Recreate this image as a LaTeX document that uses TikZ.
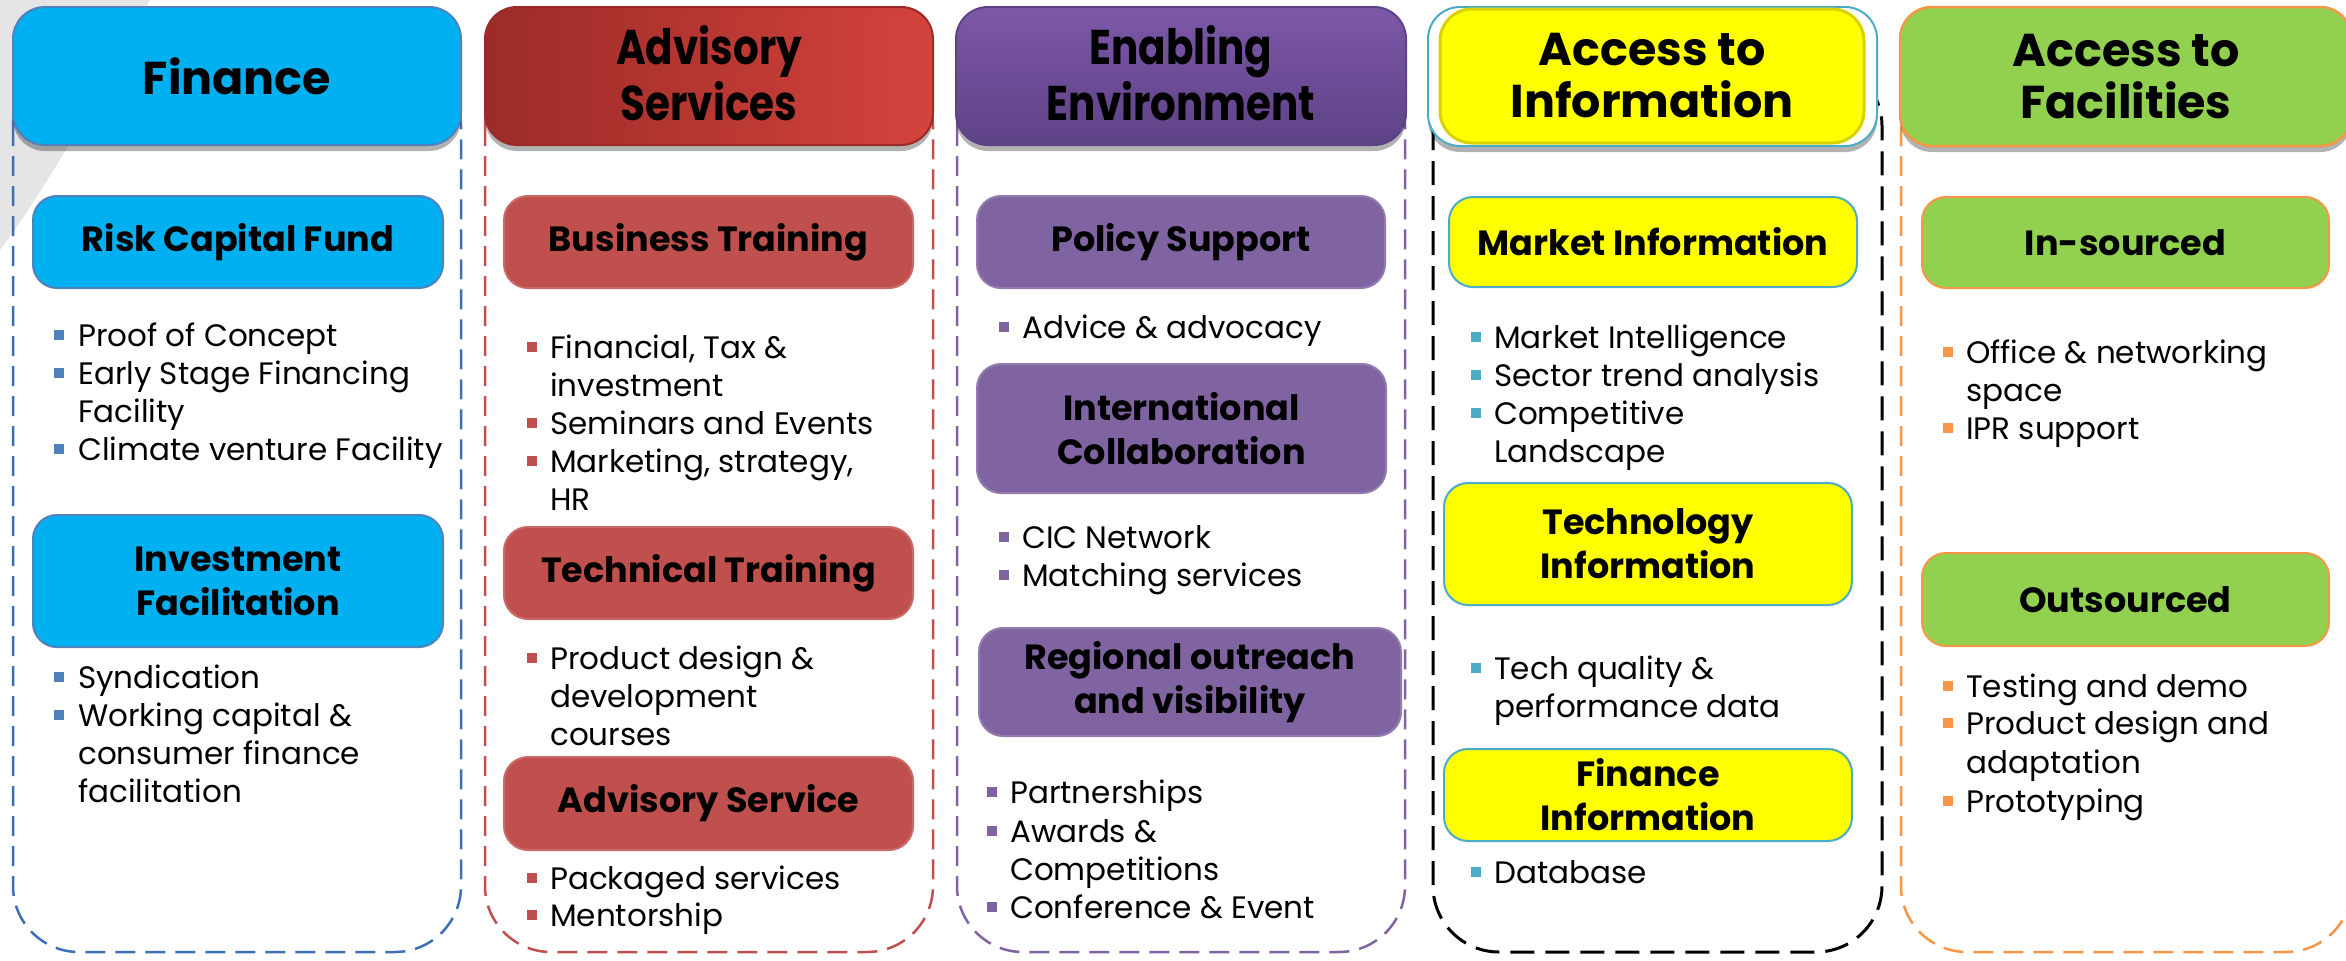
\documentclass[tikz,border=0pt]{standalone}
\usepackage{fontspec}
\usepackage{graphicx}
\setmainfont{Poppins}
\usetikzlibrary{shadows}
\definecolor{finF}{HTML}{00B0F0}
\definecolor{finD}{HTML}{3C6FB4}
\definecolor{finB}{HTML}{4F81BD}
\definecolor{advF}{HTML}{C0504D}
\definecolor{advL}{HTML}{9C2B27}
\definecolor{advR}{HTML}{D4433D}
\definecolor{enaF}{HTML}{8064A2}
\definecolor{enaT}{HTML}{7D58A8}
\definecolor{enaB}{HTML}{5E4286}
\definecolor{infB}{HTML}{4BACC6}
\definecolor{infY}{HTML}{FFFF00}
\definecolor{infE}{HTML}{D9D200}
\definecolor{facF}{HTML}{92D050}
\definecolor{facB}{HTML}{F79646}
\newcommand\myhdrf{\fontsize{46}{52}\selectfont\bfseries}
\newcommand\mysubf{\fontsize{35}{44}\selectfont\bfseries}
\newcommand\myitmf{\fontsize{31}{38}\selectfont}
\newcommand\mybox[7]{\node[#1, minimum width={#5-#3}, minimum height={#6-#4}] (#2) at ({(#3+#5)/2},{(#4+#6)/2}) {#7};}
\newcommand\mybul[3]{\fill[#3] (#1,#2-16) rectangle (#1+10,#2-6);}
\newcommand\mycond[2]{\raisebox{-5pt}[\height][\depth]{\scalebox{0.88}[1.06]{\begin{tabular}{@{}c@{}}#1\\#2\end{tabular}}}}
\begin{document}
\begin{tikzpicture}[x=1pt,y=-1pt,
  hdr/.style={rounded corners=32pt, line width=2pt, font=\myhdrf, align=center, inner sep=0pt},
  sub/.style={rounded corners=24pt, line width=2pt, font=\mysubf, align=center, inner sep=0pt},
  cont/.style={rounded corners=66pt, line width=2.5pt, dash pattern=on 20pt off 10pt},
  itm/.style={anchor=base west, inner sep=0pt, font=\myitmf},
  shd/.style={drop shadow={shadow xshift=0pt, shadow yshift=-6pt, fill=black, opacity=0.3}}
]
\useasboundingbox (0,0) rectangle (2346,961);
\fill[white] (0,0) rectangle (2346,961);
% grey background arc
\fill[black!10] (0,0) -- (150,0) .. controls (90,110) and (45,190) .. (0,250) -- cycle;

% containers
\draw[cont, draw=finD] (13,60) rectangle (461,952);
\draw[cont, draw=advF] (485,60) rectangle (933,952);
\draw[cont, draw=enaF] (957,60) rectangle (1405,952);
\draw[cont, draw=black, line width=3pt, dash pattern=on 24pt off 11pt] (1433,60) rectangle (1882,952);
\draw[cont, draw=facB] (1901,60) rectangle (2352,952);

% headers
\mybox{hdr, shd, fill=finF, draw=finB}{hfin}{13}{7}{461}{145}{Finance}
\mybox{hdr, shd, left color=advL, right color=advR, draw=advL}{hadv}{485}{7}{933}{145}{\mycond{Advisory}{Services}}
\mybox{hdr, shd, top color=enaT, bottom color=enaB, draw=enaB}{hena}{956}{7}{1406}{145}{\mycond{Enabling}{Environment}}
\mybox{hdr, shd, fill=white, draw=infB}{hinfo}{1428}{7}{1877}{146}{}
\mybox{hdr, fill=infY, draw=infE, line width=3pt}{hinf}{1440}{9}{1864}{143}{Access to\\Information}
\mybox{hdr, shd, fill=facF, draw=facB, line width=2.5pt}{hfac}{1900}{7}{2352}{146}{Access to\\Facilities}

% Finance
\mybox{sub, fill=finF, draw=finB}{rcf}{33}{196}{443}{288}{Risk Capital Fund}
\mybox{sub, fill=finF, draw=finB}{inv}{33}{515}{443}{647}{Investment\\Facilitation}
\mybul{54}{346}{finB}\node[itm] (fa1) at (78,346) {Proof of Concept};
\mybul{54}{384}{finB}\node[itm] (fa2) at (78,384) {Early Stage Financing};
\node[itm] (fa3) at (78,422) {Facility};
\mybul{54}{460}{finB}\node[itm] (fa4) at (78,460) {Climate venture Facility};
\mybul{54}{688}{finB}\node[itm] (fb1) at (78,688) {Syndication};
\mybul{54}{726}{finB}\node[itm] (fb2) at (78,726) {Working capital \&};
\node[itm] (fb3) at (78,764) {consumer finance};
\node[itm] (fb4) at (78,802) {facilitation};

% Advisory
\mybox{sub, fill=advF, draw=advF!85!white}{bt}{504}{196}{913}{288}{Business Training}
\mybox{sub, fill=advF, draw=advF!85!white}{tt}{504}{527}{913}{619}{Technical Training}
\mybox{sub, fill=advF, draw=advF!85!white}{asv}{504}{757}{913}{850}{Advisory Service}
\mybul{527}{358}{advF}\node[itm] (aa1) at (550,358) {Financial, Tax \&};
\node[itm] (aa2) at (550,396) {investment};
\mybul{527}{434}{advF}\node[itm] (aa3) at (550,434) {Seminars and Events};
\mybul{527}{472}{advF}\node[itm] (aa4) at (550,472) {Marketing, strategy,};
\node[itm] (aa5) at (550,510) {HR};
\mybul{527}{669}{advF}\node[itm] (ab1) at (550,669) {Product design \&};
\node[itm] (ab2) at (550,707) {development};
\node[itm] (ab3) at (550,745) {courses};
\mybul{527}{889}{advF}\node[itm] (ac1) at (550,889) {Packaged services};
\mybul{527}{926}{advF}\node[itm] (ac2) at (550,926) {Mentorship};

% Enabling
\mybox{sub, fill=enaF, draw=enaF!85!white}{ps}{977}{196}{1385}{288}{Policy Support}
\mybox{sub, fill=enaF, draw=enaF!85!white}{icol}{977}{364}{1386}{493}{International\\Collaboration}
\mybox{sub, fill=enaF, draw=enaF!85!white}{ro}{979}{628}{1401}{736}{Regional outreach\\and visibility}
\mybul{999}{338}{enaF}\node[itm] (ea1) at (1022,338) {Advice \& advocacy};
\mybul{999}{548}{enaF}\node[itm] (eb1) at (1022,548) {CIC Network};
\mybul{999}{586}{enaF}\node[itm] (eb2) at (1022,586) {Matching services};
\mybul{987}{803}{enaF}\node[itm] (ec1) at (1010,803) {Partnerships};
\mybul{987}{842}{enaF}\node[itm] (ec2) at (1010,842) {Awards \&};
\node[itm] (ec3) at (1010,880) {Competitions};
\mybul{987}{918}{enaF}\node[itm] (ec4) at (1010,918) {Conference \& Event};

% Information
\mybox{sub, fill=infY, draw=infB}{mi}{1449}{197}{1857}{287}{Market Information}
\mybox{sub, fill=infY, draw=infB}{ti}{1444}{483}{1852}{605}{Technology\\Information}
\mybox{sub, fill=infY, draw=infB}{fi}{1444}{749}{1852}{841}{Finance\\Information}
\mybul{1471}{348}{infB}\node[itm] (ia1) at (1494,348) {Market Intelligence};
\mybul{1471}{386}{infB}\node[itm] (ia2) at (1494,386) {Sector trend analysis};
\mybul{1471}{424}{infB}\node[itm] (ia3) at (1494,424) {Competitive};
\node[itm] (ia4) at (1494,462) {Landscape};
\mybul{1471}{679}{infB}\node[itm] (ib1) at (1494,679) {Tech quality \&};
\node[itm] (ib2) at (1494,717) {performance data};
\mybul{1471}{883}{infB}\node[itm] (ic1) at (1494,883) {Database};

% Facilities
\mybox{sub, fill=facF, draw=facB}{ins}{1922}{197}{2329}{288}{In-sourced}
\mybox{sub, fill=facF, draw=facB}{outs}{1922}{553}{2329}{646}{Outsourced}
\mybul{1943}{363}{facB}\node[itm] (ga1) at (1966,363) {Office \& networking};
\node[itm] (ga2) at (1966,401) {space};
\mybul{1943}{439}{facB}\node[itm] (ga3) at (1966,439) {IPR support};
\mybul{1943}{697}{facB}\node[itm] (gb1) at (1966,697) {Testing and demo};
\mybul{1943}{734}{facB}\node[itm] (gb2) at (1966,734) {Product design and};
\node[itm] (gb3) at (1966,773) {adaptation};
\mybul{1943}{812}{facB}\node[itm] (gb4) at (1966,812) {Prototyping};
\end{tikzpicture}
\end{document}
